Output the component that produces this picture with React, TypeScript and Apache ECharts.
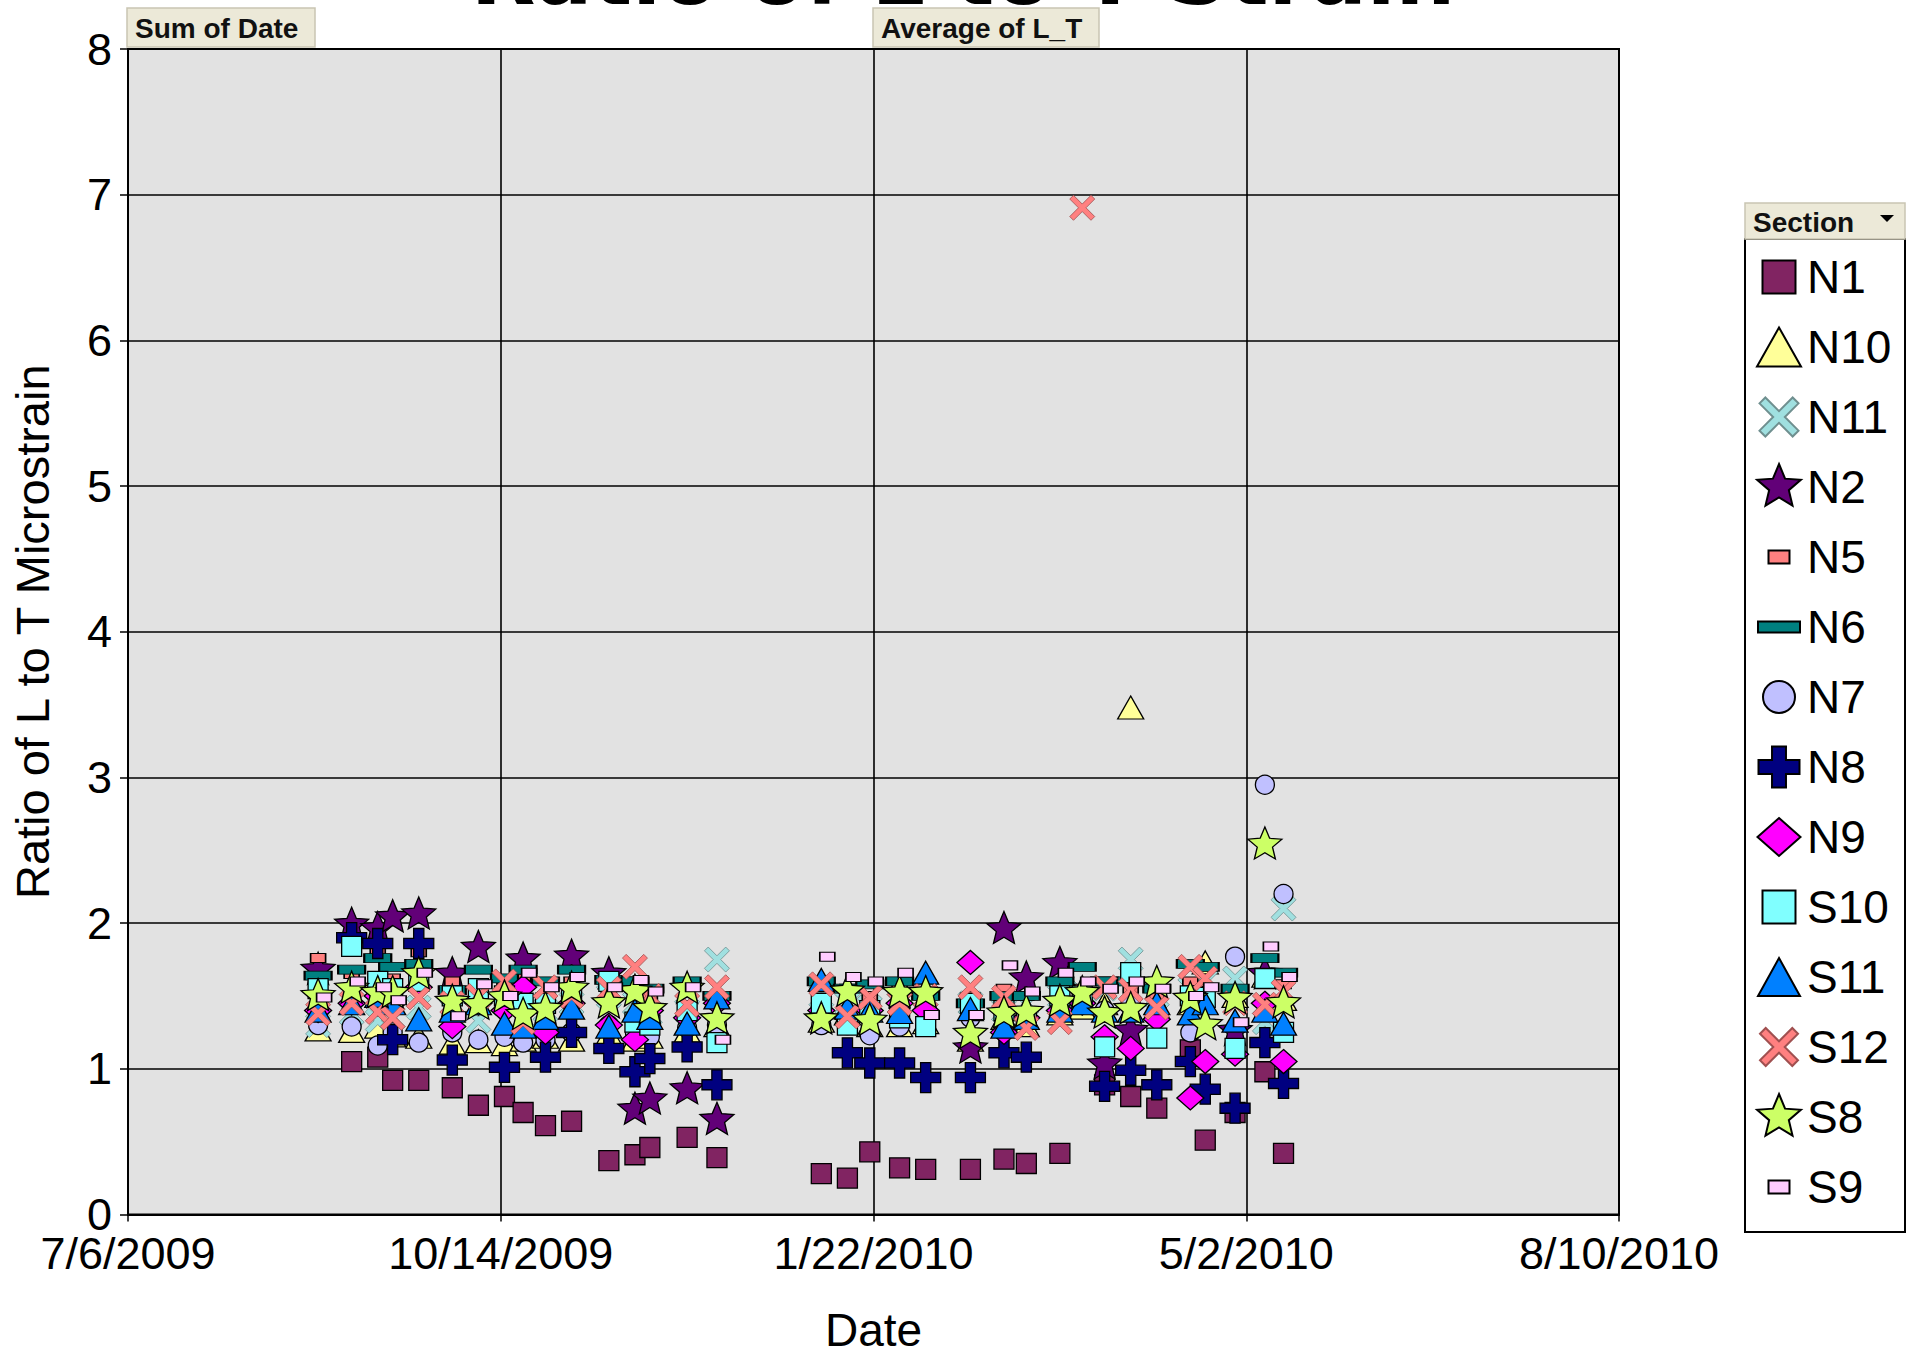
import React, { useEffect, useRef } from "react";
import * as echarts from "echarts";

// ---------- data ----------
const BASE_DATE = "2009-07-06";
const X_MAX_DAYS = 400;
const X_TICK_DAYS = 100;
const Y_MAX = 8;
const Y_TICK = 1;

const DATES = [
  "2009-08-26", "2009-09-04", "2009-09-11", "2009-09-15", "2009-09-22", "2009-10-01",
  "2009-10-08", "2009-10-15", "2009-10-20", "2009-10-26", "2009-11-02", "2009-11-12",
  "2009-11-19", "2009-11-23", "2009-12-03", "2009-12-11", "2010-01-08", "2010-01-15",
  "2010-01-21", "2010-01-29", "2010-02-05", "2010-02-17", "2010-02-26", "2010-03-04",
  "2010-03-13", "2010-03-19", "2010-03-25", "2010-04-01", "2010-04-08", "2010-04-17",
  "2010-04-21", "2010-04-29", "2010-05-07", "2010-05-12",
];

const SECTIONS = ["N1", "N10", "N11", "N2", "N5", "N6", "N7", "N8", "N9", "S10", "S11", "S12", "S8", "S9"];

const N1 = [null, 1.05, 1.08, 0.92, 0.92, 0.87, 0.75, 0.81, 0.70, 0.61, 0.64, 0.37, 0.41, 0.46, 0.53, 0.39, 0.28, 0.25, 0.43, 0.32, 0.31, 0.31, 0.38, 0.35, 0.42, null, 0.89, 0.81, 0.73, 1.13, 0.51, 0.70, 0.98, 0.42];
const N10 = [1.27, 1.26, 1.29, 1.23, 1.22, 1.18, 1.19, 1.17, 1.2, 1.22, 1.2, 1.24, 1.2, 1.22, 1.26, 1.3, 1.33, 1.38, 1.3, 1.3, 1.32, 1.2, 1.35, 1.3, 1.38, 1.42, 1.45, 3.48, 1.42, 1.45, 1.73, 1.5, 1.64, 1.48];
const N11 = [1.3, 1.38, 1.33, 1.35, 1.42, 1.4, 1.33, 1.45, 1.35, 1.4, 1.45, 1.5, 1.45, 1.38, 1.4, 1.75, 1.5, 1.45, 1.42, 1.45, 1.5, 1.45, 1.4, 1.45, 1.5, 1.52, 1.55, 1.75, 1.5, 1.55, 1.6, 1.62, 1.32, 2.1];
const N2 = [1.69, 2.0, 1.97, 2.05, 2.07, 1.66, 1.84, null, 1.76, null, 1.78, 1.66, 0.73, 0.80, 0.87, 0.66, null, null, null, null, null, 1.15, 1.97, 1.63, 1.73, null, 1.04, 1.27, null, null, null, 1.27, 1.66, null];
const N5 = [1.76, 1.65, 1.8, 1.62, 1.8, 1.6, 1.55, 1.58, 1.62, 1.5, 1.6, 1.55, 1.6, 1.5, 1.58, 1.5, 1.6, 1.55, 1.5, 1.55, 1.48, 1.5, 1.55, 1.5, 1.58, 1.55, 1.6, 1.55, 1.5, 1.6, 1.55, 1.5, 1.6, 1.58];
const N6 = [1.64, 1.68, 1.76, 1.7, 1.72, 1.54, 1.68, 1.62, 1.68, 1.6, 1.68, 1.61, 1.6, 1.55, 1.6, 1.5, 1.6, 1.55, 1.58, 1.6, 1.5, 1.45, 1.5, 1.5, 1.6, 1.7, 1.6, 1.6, 1.55, 1.72, 1.7, 1.55, 1.76, 1.66];
const N7 = [1.3, 1.29, 1.16, 1.25, 1.18, 1.25, 1.2, 1.22, 1.18, 1.2, 1.25, 1.3, 1.25, 1.22, 1.28, 1.3, 1.3, 1.3, 1.23, 1.29, 1.3, 1.35, 1.3, 1.35, 1.4, 1.45, 1.4, 1.45, 1.4, 1.25, 1.5, 1.77, 2.95, 2.2];
const N8 = [null, 1.9, 1.86, 1.2, 1.86, 1.06, null, 1.01, null, 1.08, 1.25, 1.14, 0.98, 1.07, 1.15, 0.89, null, 1.11, 1.04, 1.04, 0.94, 0.94, 1.11, 1.08, null, null, 0.88, 0.99, 0.89, 1.05, 0.86, 0.73, 1.18, 0.9];
const N9 = [1.4, 1.45, 1.5, 1.45, 1.56, 1.29, 1.45, 1.4, 1.56, 1.25, 1.45, 1.3, 1.2, 1.4, 1.35, 1.45, 1.4, 1.35, 1.4, 1.45, 1.4, 1.73, 1.25, 1.35, 1.4, 1.45, 1.22, 1.14, 1.34, 0.8, 1.05, 1.1, 1.45, 1.05];
const S10 = [1.55, 1.84, 1.6, 1.55, 1.6, 1.5, 1.55, 1.5, 1.45, 1.45, 1.5, 1.6, 1.32, 1.3, 1.4, 1.18, 1.45, 1.3, 1.4, 1.35, 1.29, 1.45, 1.4, 1.35, 1.5, 1.5, 1.15, 1.66, 1.21, 1.5, 1.49, 1.14, 1.62, 1.25];
const S11 = [1.4, 1.45, 1.5, 1.45, 1.34, 1.4, 1.45, 1.31, 1.29, 1.35, 1.42, 1.29, 1.4, 1.35, 1.31, 1.49, 1.61, 1.42, 1.4, 1.39, 1.66, 1.41, 1.29, 1.35, 1.4, 1.45, 1.4, 1.4, 1.45, 1.38, 1.45, 1.33, 1.4, 1.31];
const S12 = [1.38, 1.45, 1.39, 1.35, 1.49, 1.45, 1.5, 1.6, 1.32, 1.56, 1.5, 1.55, 1.7, 1.5, 1.44, 1.56, 1.58, 1.36, 1.49, 1.45, 1.5, 1.56, 1.49, 1.28, 1.32, 6.91, 1.56, 1.54, 1.42, 1.7, 1.62, 1.45, 1.44, 1.53];
const S8 = [1.51, 1.56, 1.53, 1.53, 1.66, 1.47, 1.45, 1.5, 1.38, 1.42, 1.56, 1.46, 1.54, 1.42, 1.56, 1.35, 1.35, 1.54, 1.34, 1.53, 1.53, 1.25, 1.39, 1.4, 1.47, 1.53, 1.39, 1.42, 1.6, 1.49, 1.31, 1.49, 2.55, 1.46];
const S9 = [1.49, 1.6, 1.56, 1.47, 1.66, 1.36, 1.58, 1.5, 1.66, 1.56, 1.63, 1.56, 1.61, 1.53, 1.56, 1.2, 1.77, 1.63, 1.6, 1.66, 1.37, 1.37, 1.71, 1.53, 1.66, 1.6, 1.55, 1.6, 1.55, 1.5, 1.56, 1.32, 1.84, 1.63];

const VALUES: Record<string, (number | null)[]> = { N1, N10, N11, N2, N5, N6, N7, N8, N9, S10, S11, S12, S8, S9 };

// ---------- styles ----------
const FONT = "Liberation Sans";

const STAR = [[50, 0], [63.2, 31.8], [97.6, 34.5], [71.4, 57], [79.4, 90.5], [50, 72.5], [20.6, 90.5], [28.6, 57], [2.4, 34.5], [36.8, 31.8]];
const PLUS = [[33, 0], [67, 0], [67, 33], [100, 33], [100, 67], [67, 67], [67, 100], [33, 100], [33, 67], [0, 67], [0, 33], [33, 33]];
const XMARK = [[0, 15], [15, 0], [50, 35], [85, 0], [100, 15], [65, 50], [100, 85], [85, 100], [50, 65], [15, 100], [0, 85], [35, 50]];
const TRI = [[50, 0], [100, 100], [0, 100]];
const DIAM = [[50, 0], [100, 50], [50, 100], [0, 50]];
const RECT = [[0, 0], [100, 0], [100, 100], [0, 100]];

const SHAPES: Record<string, number[][]> = { star: STAR, plus: PLUS, x: XMARK, tri: TRI, diamond: DIAM, rect: RECT };

type Marker = { shape: string; color: string; size: number[]; legend: number[]; border?: string; bw?: number; offset?: number[] };
const MARKERS: Record<string, Marker> = {
  N1: { shape: "rect", color: "#812462", size: [20, 20], legend: [33, 33] },
  N10: { shape: "tri", color: "#FFFF99", size: [26, 23], legend: [44, 39] },
  N11: { shape: "x", color: "#A0E0E0", size: [25, 25], legend: [39, 39], border: "#6f8f8f", bw: 0.8 },
  N2: { shape: "star", color: "#620078", size: [34, 32], legend: [46, 46] },
  N5: { shape: "rect", color: "#FF8080", size: [15, 9], legend: [21, 13] },
  N6: { shape: "rect", color: "#008080", size: [27, 9], legend: [42, 11] },
  N7: { shape: "circle", color: "#C0C0FF", size: [19, 19], legend: [32, 32] },
  N8: { shape: "plus", color: "#000080", size: [30, 30], legend: [41, 41] },
  N9: { shape: "diamond", color: "#FF00FF", size: [27, 24], legend: [43, 38] },
  S10: { shape: "rect", color: "#80FFFF", size: [20, 20], legend: [33, 33] },
  S11: { shape: "tri", color: "#0080FF", size: [26, 23], legend: [42, 38] },
  S12: { shape: "x", color: "#FF8080", size: [25, 25], legend: [38, 38], border: "#a05050", bw: 0.8 },
  S8: { shape: "star", color: "#CCFF66", size: [34, 32], legend: [46, 46] },
  S9: { shape: "rect", color: "#FFCCFF", size: [15, 9], legend: [21, 13], offset: [6, 0] },
};

const LEG_W = 46;
const LEG_H = 48;

function polyPath(pts: number[][], w: number, h: number, cx: number, cy: number) {
  return (
    pts
      .map((p, i) => `${i === 0 ? "M" : "L"}${(cx - w / 2 + (p[0] / 100) * w).toFixed(2)},${(cy - h / 2 + (p[1] / 100) * h).toFixed(2)}`)
      .join(" ") + " Z"
  );
}

function circlePath(r: number, cx: number, cy: number) {
  return `M${cx - r},${cy} A${r},${r} 0 1,0 ${cx + r},${cy} A${r},${r} 0 1,0 ${cx - r},${cy} Z`;
}

function seriesSymbol(m: Marker) {
  if (m.shape === "rect") return "rect";
  if (m.shape === "tri") return "triangle";
  if (m.shape === "diamond") return "diamond";
  if (m.shape === "circle") return "circle";
  return "path://" + polyPath(SHAPES[m.shape], 100, 100, 50, 50);
}

function legendIcon(m: Marker) {
  const cx = LEG_W / 2;
  const cy = LEG_H / 2;
  const body = m.shape === "circle" ? circlePath(m.legend[0] / 2, cx, cy) : polyPath(SHAPES[m.shape], m.legend[0], m.legend[1], cx, cy);
  return `path://M0,0 M${LEG_W},${LEG_H} ` + body;
}

function dayOffset(s: string) {
  const [y, m, d] = s.split("-").map(Number);
  const [by, bm, bd] = BASE_DATE.split("-").map(Number);
  return Math.round((Date.UTC(y, m - 1, d) - Date.UTC(by, bm - 1, bd)) / 86400000);
}

function fmtDay(days: number) {
  const [by, bm, bd] = BASE_DATE.split("-").map(Number);
  const t = new Date(Date.UTC(by, bm - 1, bd) + days * 86400000);
  return `${t.getUTCMonth() + 1}/${t.getUTCDate()}/${t.getUTCFullYear()}`;
}

export default function App() {
  const ref = useRef<HTMLDivElement>(null);

  useEffect(() => {
    document.body.style.margin = "0";
    if (!ref.current) return;
    const chart = echarts.init(ref.current, null, { renderer: "svg" });

    const series = SECTIONS.map((name) => {
      const m = MARKERS[name];
      const vals = VALUES[name];
      const data: number[][] = [];
      DATES.forEach((d, i) => {
        const v = vals[i];
        if (v !== null && v !== undefined) data.push([dayOffset(d), v]);
      });
      return {
        name,
        type: "scatter",
        data,
        symbol: seriesSymbol(m),
        symbolSize: m.size,
        symbolOffset: m.offset || [0, 0],
        itemStyle: {
          color: m.color,
          borderColor: m.border || "#000",
          borderWidth: m.bw !== undefined ? m.bw : 1.3,
          opacity: 1,
        },
        emphasis: { disabled: true },
        silent: true,
      };
    });

    const btn = (x: number, y: number, w: number, h: number, label: string) => [
      {
        type: "rect",
        shape: { x, y, width: w, height: h },
        style: { fill: "#ECE9D8", stroke: "#C9C5B2", lineWidth: 1.5 },
        z: 10,
      },
      {
        type: "text",
        x: x + 8,
        y: y + h / 2 + 1,
        style: { text: label, fontSize: 28, fontWeight: "bold", fontFamily: FONT, fill: "#111", align: "left", verticalAlign: "middle" },
        z: 11,
      },
    ];

    chart.setOption({
      animation: false,
      backgroundColor: "#ffffff",
      grid: {
        left: 128,
        top: 49,
        right: 293,
        bottom: 136.5,
        show: true,
        backgroundColor: "#E2E2E2",
        borderColor: "#000",
        borderWidth: 2,
        containLabel: false,
        outerBoundsMode: "none",
      },
      xAxis: {
        type: "value",
        min: 0,
        max: X_MAX_DAYS,
        interval: X_TICK_DAYS,
        name: "Date",
        nameLocation: "middle",
        nameGap: 100,
        nameTextStyle: { fontSize: 46, fontFamily: FONT, color: "#000", lineHeight: 30 },
        axisLine: { show: true, lineStyle: { color: "#000", width: 2 } },
        axisTick: { show: true, length: 7, lineStyle: { color: "#000", width: 1.5 } },
        axisLabel: { formatter: (v: number) => fmtDay(v), fontSize: 45, fontFamily: FONT, color: "#000", margin: 16, showMinLabel: true, showMaxLabel: true, hideOverlap: false },
        splitLine: { show: true, lineStyle: { color: "#000", width: 1.6 } },
      },
      yAxis: {
        type: "value",
        min: 0,
        max: Y_MAX,
        interval: Y_TICK,
        name: "Ratio of L to T Microstrain",
        nameLocation: "middle",
        nameRotate: 90,
        nameGap: 72,
        nameTextStyle: { fontSize: 47, fontFamily: FONT, color: "#000" },
        axisLine: { show: true, lineStyle: { color: "#000", width: 2 } },
        axisTick: { show: true, length: 8, lineStyle: { color: "#000", width: 1.5 } },
        axisLabel: { fontSize: 45, fontFamily: FONT, color: "#000", margin: 16 },
        splitLine: { show: true, lineStyle: { color: "#000", width: 1.6 } },
      },
      legend: {
        orient: "vertical",
        left: 1755,
        top: 252,
        itemWidth: LEG_W,
        itemHeight: LEG_H,
        itemGap: 20,
        selectedMode: false,
        padding: 0,
        textStyle: { fontSize: 46, fontFamily: FONT, color: "#000", lineHeight: 46 },
        data: SECTIONS.map((name) => ({ name, icon: legendIcon(MARKERS[name]) })),
      },
      graphic: [
        {
          type: "text",
          x: 963,
          y: -25,
          style: { text: "Ratio of L to T Strain", fontSize: 84, fontWeight: "bold", fontFamily: "DejaVu Sans", fill: "#000", align: "center", verticalAlign: "middle" },
          z: 1,
        },
        ...btn(127, 8, 188, 39, "Sum of Date"),
        ...btn(873, 8, 226, 39, "Average of L_T"),
        {
          type: "rect",
          shape: { x: 1745, y: 239, width: 160, height: 993 },
          style: { fill: "#ffffff", stroke: "#000", lineWidth: 2 },
          z: 0,
        },
        ...btn(1745, 203, 160, 36, "Section"),
        {
          type: "polygon",
          shape: { points: [[1880, 215], [1894, 215], [1887, 222]] },
          style: { fill: "#000" },
          z: 12,
        },
      ],
      series,
    });

    return () => chart.dispose();
  }, []);

  return <div ref={ref} style={{ width: 1912, height: 1351 }} />;
}
